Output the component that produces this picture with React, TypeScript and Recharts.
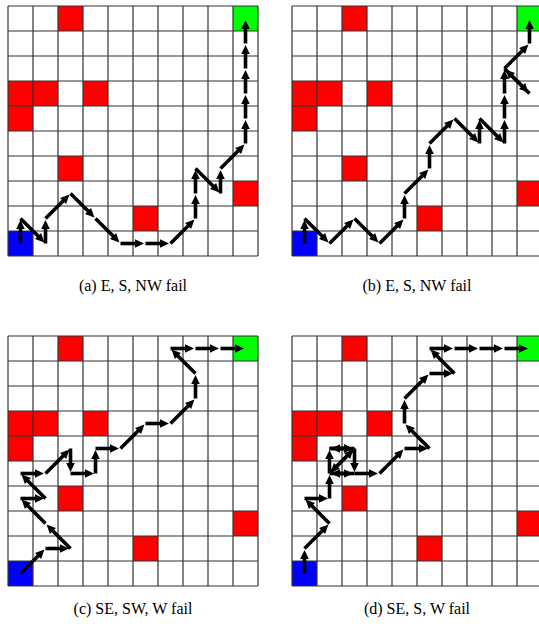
import { ComposedChart, Line, ReferenceArea, ReferenceLine, XAxis, YAxis } from "recharts";

type Cell = [number, number];

// grid cells as [column, row], row 0 at the bottom
const gridLines = [0, 1, 2, 3, 4, 5, 6, 7, 8, 9, 10];
const obstacles: Cell[] = [
  [2, 9],
  [0, 6],
  [1, 6],
  [3, 6],
  [0, 5],
  [2, 3],
  [9, 2],
  [5, 1],
];
const startCell: Cell = [0, 0];
const goalCell: Cell = [9, 9];

const pathA: Cell[] = [
  [0, 0], [0, 1], [1, 0], [1, 1], [2, 2], [3, 1], [4, 0], [5, 0], [6, 0], [7, 1],
  [7, 2], [7, 3], [8, 2], [8, 3], [9, 4], [9, 5], [9, 6], [9, 7], [9, 8], [9, 9],
];
const pathB: Cell[] = [
  [0, 0], [0, 1], [1, 0], [2, 1], [3, 0], [4, 1], [4, 2], [5, 3], [5, 4], [6, 5],
  [7, 4], [7, 5], [8, 4], [8, 5], [8, 6], [8, 7], [9, 6], [8, 7], [9, 8], [9, 9],
];
const pathC: Cell[] = [
  [0, 0], [1, 1], [2, 1], [1, 2], [0, 3], [1, 3], [0, 4], [1, 4], [2, 5], [2, 4],
  [3, 4], [3, 5], [4, 5], [5, 6], [6, 6], [7, 7], [7, 8], [6, 9], [7, 9], [8, 9], [9, 9],
];
const pathD: Cell[] = [
  [0, 0], [0, 1], [1, 2], [0, 3], [1, 3], [1, 4], [1, 5], [2, 5], [1, 4], [2, 5],
  [1, 5], [2, 5], [2, 4], [1, 4], [2, 4], [3, 4], [4, 5], [5, 5], [4, 6], [4, 7],
  [5, 8], [6, 8], [5, 9], [6, 9], [7, 9], [8, 9], [9, 9],
];

const captions = ["(a) E, S, NW fail", "(b) E, S, NW fail", "(c) SE, SW, W fail", "(d) SE, S, W fail"];
const paths = [pathA, pathB, pathC, pathD];

const SIZE = 260;
const MARGIN = 5;
const panelPos = [
  { left: 3, top: 1 },
  { left: 287, top: 1 },
  { left: 3, top: 331 },
  { left: 287, top: 331 },
];
const captionY = [291, 291, 614, 614];

// each dot draws the move that ends at it: shaft from the previous cell centre plus a head
function ArrowDot(props: any) {
  const { index, cx, cy, points } = props;
  if (!index || !points || !points[index - 1]) return <g key={`a-${index}`} />;
  const prev = points[index - 1];
  const dx = cx - prev.x;
  const dy = cy - prev.y;
  const len = Math.sqrt(dx * dx + dy * dy) || 1;
  const ux = dx / len;
  const uy = dy / len;
  const tipX = cx - ux * 1.5;
  const tipY = cy - uy * 1.5;
  const headLen = 9;
  const halfW = 4.3;
  const bx = tipX - ux * headLen;
  const by = tipY - uy * headLen;
  return (
    <g key={`a-${index}`}>
      <line x1={prev.x} y1={prev.y} x2={bx + ux} y2={by + uy} stroke="#000" strokeWidth={3.6} />
      <polygon
        points={`${tipX},${tipY} ${bx - uy * halfW},${by + ux * halfW} ${bx + uy * halfW},${by - ux * halfW}`}
        fill="#000"
      />
    </g>
  );
}

function Panel({ path }: { path: Cell[] }) {
  const data = path.map(([c, r]) => ({ x: c + 0.5, y: r + 0.5 }));
  return (
    <ComposedChart width={SIZE} height={SIZE} margin={{ top: MARGIN, right: MARGIN, bottom: MARGIN, left: MARGIN }}>
      <XAxis type="number" dataKey="x" domain={[0, 10]} allowDataOverflow hide />
      <YAxis type="number" dataKey="y" domain={[0, 10]} allowDataOverflow hide />
      {obstacles.map(([c, r]) => (
        <ReferenceArea key={`o-${c}-${r}`} x1={c} x2={c + 1} y1={r} y2={r + 1} fill="#ff0000" fillOpacity={1} stroke="none" />
      ))}
      <ReferenceArea x1={startCell[0]} x2={startCell[0] + 1} y1={startCell[1]} y2={startCell[1] + 1} fill="#0000ff" fillOpacity={1} stroke="none" />
      <ReferenceArea x1={goalCell[0]} x2={goalCell[0] + 1} y1={goalCell[1]} y2={goalCell[1] + 1} fill="#00ff00" fillOpacity={1} stroke="none" />
      {gridLines.map((v) => (
        <ReferenceLine key={`gx-${v}`} x={v} stroke="#333" strokeWidth={1.2} />
      ))}
      {gridLines.map((v) => (
        <ReferenceLine key={`gy-${v}`} y={v} stroke="#333" strokeWidth={1.2} />
      ))}
      <Line
        data={data}
        dataKey="y"
        type="linear"
        stroke="none"
        dot={<ArrowDot />}
        activeDot={false}
        isAnimationActive={false}
      />
    </ComposedChart>
  );
}

export default function App() {
  return (
    <div style={{ position: "absolute", left: 0, top: 0, width: 539, height: 628, overflow: "hidden", background: "#fff" }}>
      {paths.map((p, i) => (
        <div key={i} style={{ position: "absolute", left: panelPos[i].left, top: panelPos[i].top }}>
          <Panel path={p} />
        </div>
      ))}
      <svg width={539} height={628} style={{ position: "absolute", left: 0, top: 0, pointerEvents: "none" }}>
        {captions.map((t, i) => (
          <text
            key={t}
            x={panelPos[i].left + MARGIN + 125}
            y={captionY[i]}
            textAnchor="middle"
            fontFamily="'Liberation Serif', serif"
            fontSize={16}
            fill="#000"
          >
            {t}
          </text>
        ))}
      </svg>
    </div>
  );
}
